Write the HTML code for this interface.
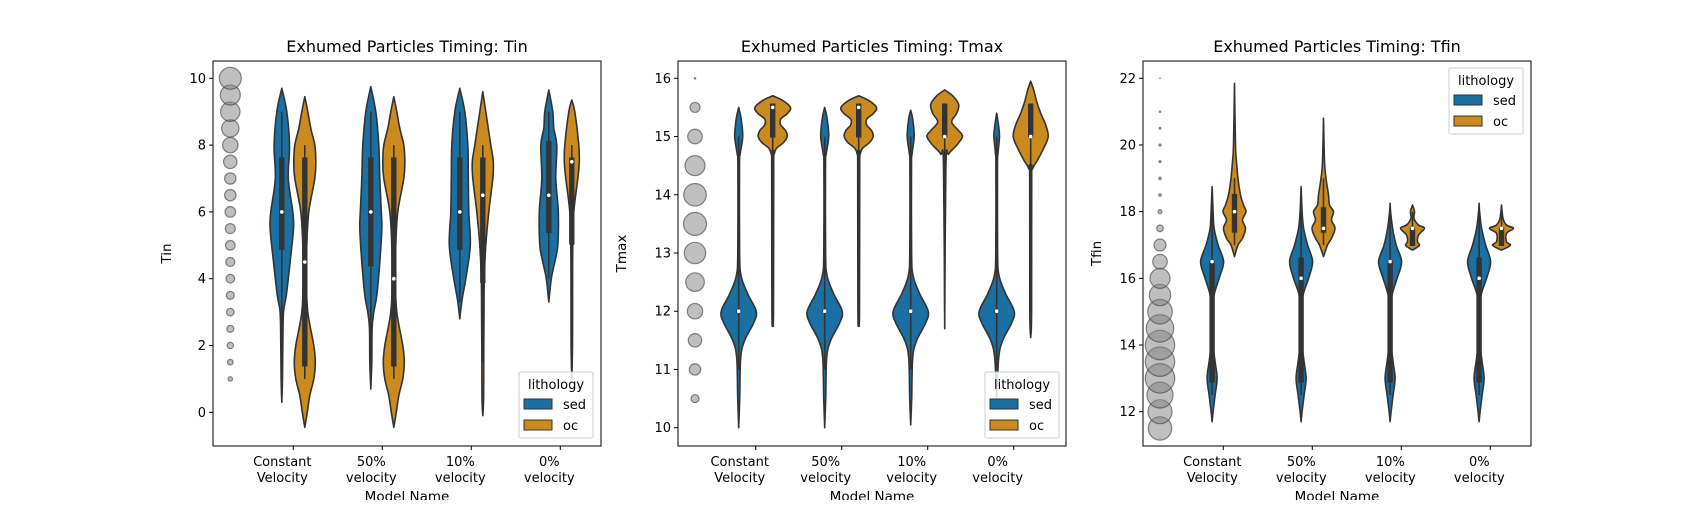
<!DOCTYPE html>
<html><head><meta charset="utf-8">
<style>
body{margin:0;background:#fff;}
svg text{font-family:"DejaVu Sans","Liberation Sans",sans-serif;fill:#000;}
</style></head>
<body>
<svg id="fig" width="1700" height="500" viewBox="0 0 1700 500" xmlns="http://www.w3.org/2000/svg"></svg>
<script>
// ---------- data ----------
const categories = ["Constant|Velocity","50%|velocity","10%|velocity","0%|velocity"];
const lithologies = ["sed","oc"];

// Panel 1: Tin
const tinTicks = [0,2,4,6,8,10];
const tinScatterVals = [1,1.5,2,2.5,3,3.5,4,4.5,5,5.5,6,6.5,7,7.5,8,8.5,9,9.5,10];
const tinScatterR = [2.2,2.8,3.2,3.5,3.8,4,4.3,4.5,4.8,5,5.3,5.7,5.7,6.7,7.7,8.7,9.7,10,11];
const tinSedProfiles = [
 [[9.7,0],[9,5],[8,7.7],[7,6.5],[6,11],[5.5,11.7],[4.5,8.3],[3.5,4.5],[3,1.7],[2,1],[1,0.7],[0.3,0]],
 [[9.75,0],[9,5],[8,8],[7,9],[6,10.5],[5.5,11],[4.5,9],[3.5,6],[3,3],[2.5,1.3],[1.5,1],[0.7,0]],
 [[9.7,0],[9,5],[8,8],[7,8.5],[6,9],[5,10.5],[4,6],[3.5,3],[3.2,1.5],[2.8,0]],
 [[9.65,0],[9,4],[8.5,5],[8,8],[7,7],[6,9.5],[5,9],[4.5,6],[4,2.5],[3.3,0]]];
const tinOcProfiles = [
 [[9.45,0],[9,3],[8.5,6],[8,10],[7.5,11],[7,10],[6,4],[5,2],[4,1.5],[3,3],[2,9],[1.5,10.5],[1,9],[0.5,5],[0,2.5],[-0.45,0]],
 [[9.45,0],[9,3],[8.5,6],[8,10],[7.5,11],[7,10],[6,4],[5,2],[4,1.5],[3,3],[2,9],[1.5,10.5],[1,9],[0.5,5],[0,2.5],[-0.45,0]],
 [[9.6,0],[9,3],[8,8],[7.5,10.5],[7,10],[6,6],[5,3],[4,1.5],[3,1.2],[2,1],[1,0.9],[0.3,0.7],[-0.1,0]],
 [[9.35,0],[9,3],[8,7],[7.5,7.5],[7,6],[6,2],[5,1],[4,0.8],[2,0.7],[1,0]]];
// box stats: [whiskerLo, q1, median, q3, whiskerHi]
const tinSedBox = [[1.5,4.9,6,7.6,9],[1,4.4,6,7.6,9],[3.3,4.9,6,7.6,9],[4,5.4,6.5,8.1,9]];
const tinOcBox = [[1,1.4,4.5,7.6,8],[1,1.4,4,7.6,8],[1.5,3.9,6.5,7.6,8],[1.2,5.05,7.5,7.6,8]];

// Panel 2: Tmax
const tmaxTicks = [10,11,12,13,14,15,16];
const tmaxScatterVals = [10.5,11,11.5,12,12.5,13,13.5,14,14.5,15,15.5,16];
const tmaxScatterR = [4,5.7,6.7,7.7,9.3,10.7,11.5,11.3,10,7.3,5,0.7];
const sedTmax = [[15.5,0],[15.3,2.5],[15,4],[14.7,1.5],[14.5,0.8],[13,0.9],[12.6,2.5],[12.3,9],[12,17.5],[11.8,15],[11.5,6],[11.2,2],[10.5,1],[10,0]];
const tmaxSedProfiles = [sedTmax, sedTmax,
 [[15.45,0],[15.3,2],[15,3.5],[14.7,1.3],[14.5,0.8],[13,0.9],[12.6,2.5],[12.3,9],[12,17.5],[11.8,15],[11.5,6],[11.2,2],[10.5,1],[10.05,0]],
 [[15.4,0],[15.2,1.8],[15,2.8],[14.7,1.2],[14.5,0.8],[13,0.9],[12.6,2.5],[12.3,9],[12,17.5],[11.8,15],[11.5,6],[11.2,2],[10.5,0]]];
const ocTmax = [[15.7,0],[15.62,10],[15.5,17.8],[15.4,15],[15.3,8],[15.2,8],[15.1,13],[15,14.5],[14.9,11],[14.8,4],[14.7,1.5],[14.5,1],[12,0.8],[11.8,0]];
const tmaxOcProfiles = [ocTmax, ocTmax,
 [[15.8,0],[15.7,8],[15.55,14],[15.4,12],[15.25,7],[15.1,14],[15,17.8],[14.85,12],[14.7,4],[14.5,1.2],[11.7,0]],
 [[15.95,0],[15.8,3],[15.6,6],[15.4,10],[15.2,15],[15,17.5],[14.8,13],[14.6,7],[14.45,2],[14.3,1],[12,0.9],[11.55,0]]];
const tmaxSedBox = [[11,12,12,12,15],[11,12,12,12,15],[11,12,12,12,15],[11,12,12,12,15]];
const tmaxOcBox = [[12,15,15.5,15.55,15.55],[12,15,15.5,15.55,15.55],[12,15,15,15.55,15.55],[12,15,15,15.55,15.55]];

// Panel 3: Tfin
const tfinTicks = [12,14,16,18,20,22];
const tfinScatterVals = [11.5,12,12.5,13,13.5,14,14.5,15,15.5,16,16.5,17,17.5,18,18.5,19,19.5,20,20.5,21,22];
const tfinScatterR = [11.7,12,13,14.7,14.7,14.7,13.7,12.3,10.7,10,7.3,6,3.3,2,1.3,1.2,1,1,0.8,0.7,0.3];
const tfinSedProfiles = [
 [[18.75,0],[18,1],[17.5,2],[17,6],[16.5,11.5],[16,7],[15.5,2],[15,1.2],[14,1.2],[13.5,3],[13,5],[12.5,3],[12,1],[11.7,0]],
 [[18.75,0],[18,1],[17.5,2.5],[17,6.5],[16.5,11.5],[16,7.5],[15.5,2],[15,1.2],[14,1.2],[13.5,3],[13,5],[12.5,3],[12,1],[11.7,0]],
 [[18.25,0],[18,0.5],[17.5,2.5],[17,6],[16.5,11.5],[16,7],[15.5,2],[15,1.2],[14,1.2],[13.5,3],[13,5],[12.5,3],[12,1],[11.7,0]],
 [[18.25,0],[18,0.5],[17.5,2.5],[17,6.5],[16.5,11.5],[16,7.5],[15.5,2],[15,1.2],[14,1.2],[13.5,3],[13,5],[12.5,3],[12,1],[11.7,0]]];
const tfinOcProfiles = [
 [[21.85,0],[20,1],[19.5,2],[19,3.5],[18.5,6],[18.2,9],[18,11.5],[17.75,8],[17.5,11],[17.2,8],[17,3.5],[16.65,0]],
 [[20.8,0],[19.5,1],[19,2.5],[18.5,5],[18.2,6],[18,10],[17.75,8],[17.5,11.5],[17.2,8],[17,4],[16.65,0]],
 [[18.2,0],[18,2],[17.8,1.5],[17.6,6],[17.5,12],[17.3,6],[17.1,5],[17,7],[16.9,3],[16.85,0]],
 [[18.2,0],[17.8,1.5],[17.6,5],[17.5,12],[17.35,5],[17.1,5],[17,9],[16.9,4],[16.85,0]]];
const tfinSedBox = [[12.5,12.9,16.5,16.5,18],[12.5,12.9,16,16.6,18],[12.5,12.9,16.5,16.5,18],[12.5,12.9,16,16.6,18]];
const tfinOcBox = [[17,17.4,18,18.5,19],[17,17.4,17.5,18.1,19],[17,17,17.5,17.5,18],[17,17,17.5,17.5,18]];

// ---------- drawing ----------
const NS="http://www.w3.org/2000/svg";
const svg=document.getElementById('fig');
function el(tag,attrs,parent){const e=document.createElementNS(NS,tag);for(const k in attrs)e.setAttribute(k,attrs[k]);(parent||svg).appendChild(e);return e;}
const COL={sed:"#1a6fa3",oc:"#cb8a1d"};

function smoothPath(pts,cx,sgn){
  const cl=x=>sgn>0?Math.max(cx,x):Math.min(cx,x);
  let d="M"+pts[0][0]+","+pts[0][1];
  for(let i=0;i<pts.length-1;i++){
    const p0=pts[Math.max(0,i-1)],p1=pts[i],p2=pts[i+1],p3=pts[Math.min(pts.length-1,i+2)];
    const c1=[cl(p1[0]+(p2[0]-p0[0])/6),p1[1]+(p2[1]-p0[1])/6];
    const c2=[cl(p2[0]-(p3[0]-p1[0])/6),p2[1]-(p3[1]-p1[1])/6];
    d+=" C"+c1[0]+","+c1[1]+" "+c2[0]+","+c2[1]+" "+p2[0]+","+p2[1];
  }
  return d;
}

function panel(cfg){
  const g=el('g',{});
  
  
  const y=v=>cfg.y0+(v-cfg.v0)*(cfg.y1-cfg.y0)/(cfg.v1-cfg.v0);
  const xc=i=>cfg.tx0+i*cfg.step;
  const t=el('text',{x:(cfg.L+cfg.R)/2,y:52,'text-anchor':'middle','font-size':'16'},g);
  t.textContent=cfg.title;
  
  
  cfg.sv.forEach((v,i)=>{
    const c=el('circle',{cx:xc(0)+cfg.scOff,cy:y(v),r:cfg.sr[i],fill:"rgba(128,128,128,0.5)",stroke:"rgba(60,60,60,0.6)","stroke-width":1.2},g);
    
    
  });
  [['sed',cfg.sedP,cfg.sedB,-cfg.off],['oc',cfg.ocP,cfg.ocB,cfg.off]].forEach(([lith,profs,boxes,off])=>{
    profs.forEach((prof,i)=>{
      const cx=xc(i)+off;
      const right=prof.map(p=>[cx+p[1],y(p[0])]);
      const left=prof.slice().reverse().map(p=>[cx-p[1],y(p[0])]);
      const d=smoothPath(right,cx,1)+smoothPath(left,cx,-1).replace(/^M/," L")+" Z";
      const p=el('path',{d:d,fill:COL[lith],stroke:"#333","stroke-width":1.6,"stroke-linejoin":"round"},g);
      
      
      const b=boxes[i];
      const w=el('line',{x1:cx,x2:cx,y1:y(b[0]),y2:y(b[4]),stroke:"#333","stroke-width":1.6},g);
      
      
      const bx=el('rect',{x:cx-2.7,width:5.4,y:Math.min(y(b[1]),y(b[3]))-1,height:Math.abs(y(b[3])-y(b[1]))+2,fill:"#333"},g);
      
      
      const m=el('circle',{cx:cx,cy:y(b[2]),r:1.8,fill:"#fff"},g);
      
      
    });
  });
  const f=el('rect',{x:cfg.L,y:cfg.T,width:cfg.R-cfg.L,height:cfg.B-cfg.T,fill:"none",stroke:"#000","stroke-width":1},g);
  
  
  cfg.ticks.forEach(v=>{
    el('line',{x1:cfg.L-4,x2:cfg.L,y1:y(v),y2:y(v),stroke:"#000","stroke-width":1},g);
    const tt=el('text',{x:cfg.L-7,y:y(v)+4.5,'text-anchor':'end','font-size':'13'},g);
    tt.textContent=v;
    
    
  });
  const yl=el('text',{x:0,y:0,'text-anchor':'middle','font-size':'13.5',transform:`translate(${cfg.L-cfg.ylOff},${(cfg.T+cfg.B)/2}) rotate(-90)`},g);
  yl.textContent=cfg.yLabel;
  
  
  categories.forEach((c,i)=>{
    el('line',{x1:xc(i),x2:xc(i),y1:cfg.B,y2:cfg.B+4,stroke:"#000","stroke-width":1},g);
    c.split("|").forEach((s,j)=>{
      const tt=el('text',{x:xc(i)-cfg.labOff,y:466+j*16,'text-anchor':'middle','font-size':'13'},g);
      tt.textContent=s;
      
      
    });
  });
  const xl=el('text',{x:(cfg.L+cfg.R)/2,y:501,'text-anchor':'middle','font-size':'13.5'},g);
  xl.textContent="Model Name";
  
  
  const lg=el('g',{},g);
  
  
  const [lx,ly]=cfg.leg;
  el('rect',{x:lx,y:ly,width:74,height:66,rx:2,fill:"rgba(255,255,255,0.85)",stroke:"#ccc","stroke-width":1},lg);
  const lt=el('text',{x:lx+37,y:ly+17,'text-anchor':'middle','font-size':'13'},lg);
  lt.textContent="lithology";
  lithologies.forEach((l,k)=>{
    const e=el('g',{},lg);
    
    
    el('rect',{x:lx+5,y:ly+27+k*21,width:28,height:10,fill:COL[l],stroke:"#333","stroke-width":1},e);
    const tx=el('text',{x:lx+44,y:ly+37+k*21,'font-size':'13'},e);
    tx.textContent=l;
  });
}

panel({name:'tin',title:"Exhumed Particles Timing: Tin",yLabel:"Tin",L:213,R:601,T:61,B:446,
  v0:0,v1:10,y0:412.3,y1:78.3,ticks:tinTicks,tx0:293.3,step:89,off:11.5,scOff:-63,labOff:11,ylOff:42,
  sv:tinScatterVals,sr:tinScatterR,sedP:tinSedProfiles,ocP:tinOcProfiles,sedB:tinSedBox,ocB:tinOcBox,leg:[519,372]});
panel({name:'tmax',title:"Exhumed Particles Timing: Tmax",yLabel:"Tmax",L:678,R:1066,T:61,B:446,
  v0:10,v1:16,y0:427.7,y1:78.3,ticks:tmaxTicks,tx0:755.7,step:86,off:17,scOff:-60.7,labOff:16,ylOff:52,
  sv:tmaxScatterVals,sr:tmaxScatterR,sedP:tmaxSedProfiles,ocP:tmaxOcProfiles,sedB:tmaxSedBox,ocB:tmaxOcBox,leg:[985,372]});
panel({name:'tfin',title:"Exhumed Particles Timing: Tfin",yLabel:"Tfin",L:1143,R:1531,T:61,B:446,
  v0:12,v1:22,y0:411.7,y1:78.3,ticks:tfinTicks,tx0:1223.3,step:89,off:11.2,scOff:-63.3,labOff:11,ylOff:42,
  sv:tfinScatterVals,sr:tfinScatterR,sedP:tfinSedProfiles,ocP:tfinOcProfiles,sedB:tfinSedBox,ocB:tfinOcBox,leg:[1449,68]});
</script>
</body></html>
